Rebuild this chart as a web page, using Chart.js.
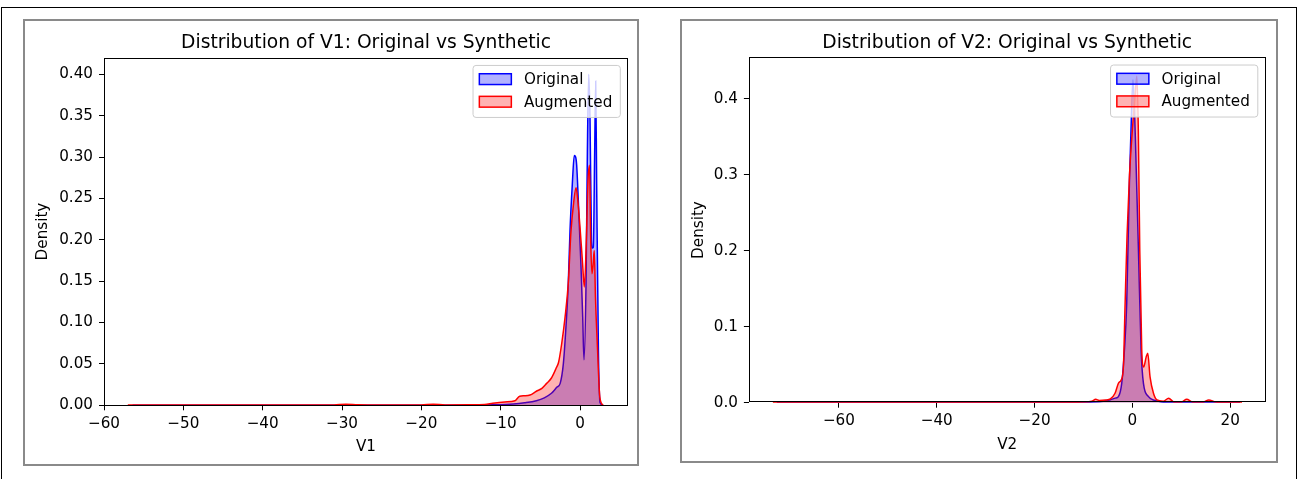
<!DOCTYPE html>
<html>
<head>
<meta charset="utf-8">
<script src="https://cdn.jsdelivr.net/npm/chart.js@4.4.1/dist/chart.umd.min.js"></script>
<style>
  html, body { margin: 0; padding: 0; background: #fff; }
  body { width: 1298px; height: 479px; position: relative; overflow: hidden; }
  .outer { position: absolute; left: 1px; top: 7px; width: 1296px; height: 500px; border: 1px solid #000; box-sizing: border-box; }
  .panel { position: absolute; border: 2px solid #8a8a8a; box-sizing: border-box; }
  canvas { position: absolute; }
</style>
</head>
<body>
<div class="outer"></div>
<div class="panel" style="left:23px;top:19px;width:616px;height:447px;"></div>
<div class="panel" style="left:680px;top:19px;width:598px;height:444px;"></div>
<canvas id="v1Chart" width="610" height="441" style="left:26px;top:22px;"></canvas>
<canvas id="v2Chart" width="592" height="438" style="left:683px;top:22px;"></canvas>
<script>
// V1 kde curves
const v1OriginalX = [-56.4, -40, -30, -20, -15, -11, -8.4, -7, -5.5, -4.5, -3.6, -2.9, -2.5, -2.1, -1.8, -1.48, -1.26, -0.97, -0.72, -0.55, -0.42, -0.21, 0.13, 0.34, 0.5, 0.76, 0.93, 1.1, 1.26, 1.45, 1.55, 1.68, 1.85, 1.98, 2.1, 2.32, 2.53, 2.9];
const v1OriginalY = [0, 0, 0, 0.0001, 0.0002, 0.0006, 0.0016, 0.003, 0.0055, 0.009, 0.0145, 0.022, 0.0265, 0.05, 0.09, 0.147, 0.211, 0.267, 0.302, 0.3, 0.29, 0.247, 0.167, 0.107, 0.055, 0.147, 0.307, 0.40, 0.348, 0.2, 0.19, 0.191, 0.307, 0.392, 0.267, 0.067, 0.003, 0];
const v1AugmentedX = [-57, -45, -35, -31, -29.5, -28, -25, -20, -18.5, -17, -14, -12, -11, -9.5, -8.2, -7.6, -7.0, -6.3, -5.5, -4.8, -4.2, -3.6, -3.0, -2.7, -2.3, -1.9, -1.48, -1.14, -0.8, -0.5, -0.3, 0.0, 0.3, 0.55, 0.8, 1.0, 1.2, 1.35, 1.5, 1.65, 1.8, 1.95, 2.2, 2.5, 2.9];
const v1AugmentedY = [0.0003, 0.0003, 0.0003, 0.0005, 0.0012, 0.0006, 0.0004, 0.0005, 0.0013, 0.0005, 0.0006, 0.0009, 0.0024, 0.004, 0.0055, 0.011, 0.0115, 0.0124, 0.017, 0.0205, 0.0265, 0.033, 0.045, 0.052, 0.075, 0.105, 0.147, 0.21, 0.245, 0.263, 0.25, 0.215, 0.175, 0.143, 0.2, 0.27, 0.29, 0.2, 0.159, 0.17, 0.187, 0.13, 0.07, 0.01, 0];

// V2 kde curves
const v2OriginalX = [-72.7, -40, -20, -10, -8, -6, -4.5, -3.5, -2.87, -2.19, -1.64, -1.17, -0.62, -0.29, 0.1, 0.4, 0.68, 1.23, 1.77, 2.25, 3.28, 4.6, 6, 8, 12, 22];
const v2OriginalY = [0, 0, 0, 0.0002, 0.0008, 0.002, 0.004, 0.006, 0.008, 0.0255, 0.069, 0.131, 0.289, 0.36, 0.425, 0.39, 0.33, 0.2, 0.069, 0.0255, 0.008, 0.003, 0.001, 0.0003, 0, 0];
const v2AugmentedX = [-73.5, -50, -30, -15, -10, -8.3, -7.5, -6.8, -5.5, -4.5, -3.56, -2.87, -2.3, -1.85, -1.5, -1.1, -0.6, 0, 0.5, 0.9, 1.2, 1.5, 1.9, 2.3, 2.8, 3.13, 3.6, 4.3, 5, 6.3, 7.4, 8.5, 10, 11.1, 12.3, 14.5, 15.6, 17, 22.4];
const v2AugmentedY = [0.0002, 0.0002, 0.0003, 0.0004, 0.0008, 0.002, 0.0045, 0.003, 0.0035, 0.005, 0.0124, 0.0255, 0.03, 0.047, 0.13, 0.22, 0.3, 0.36, 0.40, 0.43, 0.36, 0.2, 0.07, 0.047, 0.06, 0.065, 0.034, 0.0124, 0.0036, 0.002, 0.0058, 0.001, 0.001, 0.0045, 0.001, 0.001, 0.0036, 0.001, 0];

// axis ticks
const v1XTicks = [-60, -50, -40, -30, -20, -10, 0];
const v1XTickLabels = ['\u221260', '\u221250', '\u221240', '\u221230', '\u221220', '\u221210', '0'];
const v1YTicks = [0, 0.05, 0.1, 0.15, 0.2, 0.25, 0.3, 0.35, 0.4];
const v1YTickLabels = ['0.00', '0.05', '0.10', '0.15', '0.20', '0.25', '0.30', '0.35', '0.40'];
const v2XTicks = [-60, -40, -20, 0, 20];
const v2XTickLabels = ['\u221260', '\u221240', '\u221220', '0', '20'];
const v2YTicks = [0, 0.1, 0.2, 0.3, 0.4];
const v2YTickLabels = ['0.0', '0.1', '0.2', '0.3', '0.4'];

const FONT = '"DejaVu Sans", sans-serif';
const BLUE = '#0000ff';
const RED = '#ff0000';
const BLUE_FILL = 'rgba(0,0,255,0.3)';
const RED_FILL = 'rgba(255,0,0,0.3)';

// spines + matplotlib-like legend
const mplFrame = {
  id: 'mplFrame',
  afterDatasetsDraw(chart) {
    const { ctx, chartArea: a } = chart;
    ctx.save();
    ctx.strokeStyle = '#000';
    ctx.lineWidth = 1;
    ctx.strokeRect(Math.round(a.left) + 0.5, Math.round(a.top) + 0.5, Math.round(a.right - a.left) - 1, Math.round(a.bottom - a.top) - 1);

    const items = chart.data.datasets.slice().sort((p, q) => q.order - p.order);
    ctx.font = `15.2px ${FONT}`;
    const textW = Math.max(...items.map((d) => ctx.measureText(d.label).width));
    const w = 6.3 + 32 + 12.6 + textW + 8;
    const h = 52;
    const x = a.right - 7.7 - w;
    const y = a.top + 7.7;
    ctx.beginPath();
    ctx.roundRect(x, y, w, h, 3);
    ctx.fillStyle = 'rgba(255,255,255,0.8)';
    ctx.fill();
    ctx.strokeStyle = '#cccccc';
    ctx.stroke();
    items.forEach((d, i) => {
      const cy = y + 13.7 + i * 22.6;
      ctx.fillStyle = d.backgroundColor;
      ctx.fillRect(x + 6.3, cy - 5.4, 32, 10.8);
      ctx.strokeStyle = d.borderColor;
      ctx.lineWidth = 1.5;
      ctx.strokeRect(x + 6.3, cy - 5.4, 32, 10.8);
      ctx.fillStyle = '#000';
      ctx.textBaseline = 'middle';
      ctx.textAlign = 'left';
      ctx.fillText(d.label, x + 6.3 + 32 + 12.6, cy + 1);
    });
    ctx.restore();
  }
};

function toPoints(xs, ys) {
  return xs.map((x, i) => ({ x, y: ys[i] }));
}

function buildChart(canvasId, opts) {
  return new Chart(document.getElementById(canvasId), {
    type: 'line',
    data: {
      datasets: [
        {
          label: 'Original',
          data: toPoints(opts.origX, opts.origY),
          borderColor: BLUE,
          backgroundColor: BLUE_FILL,
          borderWidth: 1.5,
          fill: 'origin',
          pointRadius: 0,
          cubicInterpolationMode: 'monotone',
          order: 1
        },
        {
          label: 'Augmented',
          data: toPoints(opts.augX, opts.augY),
          borderColor: RED,
          backgroundColor: RED_FILL,
          borderWidth: 1.5,
          fill: 'origin',
          pointRadius: 0,
          cubicInterpolationMode: 'monotone',
          order: 0
        }
      ]
    },
    options: {
      responsive: false,
      animation: false,
      devicePixelRatio: 1,
      layout: { padding: { top: 0, left: 0, bottom: 0, right: opts.padRight } },
      plugins: {
        legend: { display: false },
        tooltip: { enabled: false },
        title: {
          display: true,
          text: opts.title,
          fullSize: false,
          color: '#000',
          font: { family: FONT, size: 18.7, weight: 'normal', lineHeight: 1.2 },
          padding: { top: 9.7, bottom: opts.titleBottom }
        }
      },
      scales: {
        x: {
          type: 'linear',
          min: opts.xMin,
          max: opts.xMax,
          afterBuildTicks: (scale) => { scale.ticks = opts.xTicks.map((v) => ({ value: v })); },
          afterFit: (scale) => { scale.height = opts.xAxisHeight; },
          ticks: {
            autoSkip: false,
            maxRotation: 0,
            padding: opts.xTickPad,
            color: '#000',
            font: { family: FONT, size: 15.2, lineHeight: 1.2 },
            callback: (value, index) => opts.xTickLabels[index]
          },
          grid: { display: true, drawOnChartArea: false, drawTicks: true, tickLength: 5, tickColor: '#000', tickWidth: 1 },
          border: { display: false },
          title: {
            display: true,
            text: opts.xLabel,
            color: '#000',
            font: { family: FONT, size: 15.2, lineHeight: 1.2 },
            padding: { top: 0, bottom: opts.xTitlePad }
          }
        },
        y: {
          type: 'linear',
          min: 0,
          max: opts.yMax,
          afterBuildTicks: (scale) => { scale.ticks = opts.yTicks.map((v) => ({ value: v })); },
          afterFit: (scale) => { scale.width = opts.yAxisWidth; },
          ticks: {
            autoSkip: false,
            padding: 6,
            color: '#000',
            font: { family: FONT, size: 15.2, lineHeight: 1.2 },
            callback: (value, index) => opts.yTickLabels[index]
          },
          grid: { display: true, drawOnChartArea: false, drawTicks: true, tickLength: 5, tickColor: '#000', tickWidth: 1 },
          border: { display: false },
          title: {
            display: true,
            text: 'Density',
            color: '#000',
            font: { family: FONT, size: 15.2, lineHeight: 1.2 },
            padding: { top: opts.yTitlePad, bottom: 0 }
          }
        }
      }
    },
    plugins: [mplFrame]
  });
}

buildChart('v1Chart', {
  title: 'Distribution of V1: Original vs Synthetic',
  xLabel: 'V1',
  origX: v1OriginalX, origY: v1OriginalY,
  augX: v1AugmentedX, augY: v1AugmentedY,
  xMin: -60.0, xMax: 6.05, yMax: 0.42,
  xTicks: v1XTicks, xTickLabels: v1XTickLabels,
  yTicks: v1YTicks, yTickLabels: v1YTickLabels,
  padRight: 8, titleBottom: 3.6,
  xAxisHeight: 57.7, yAxisWidth: 78,
  xTickPad: 5, xTitlePad: 6.5, yTitlePad: 8.3
});

buildChart('v2Chart', {
  title: 'Distribution of V2: Original vs Synthetic',
  xLabel: 'V2',
  origX: v2OriginalX, origY: v2OriginalY,
  augX: v2AugmentedX, augY: v2AugmentedY,
  xMin: -78.4, xMax: 27.2, yMax: 0.4545,
  xTicks: v2XTicks, xTickLabels: v2XTickLabels,
  yTicks: v2YTicks, yTickLabels: v2YTickLabels,
  padRight: 9.5, titleBottom: 3.2,
  xAxisHeight: 57.3, yAxisWidth: 65.9,
  xTickPad: 4, xTitlePad: 5.7, yTitlePad: 6.6
});
</script>
</body>
</html>
